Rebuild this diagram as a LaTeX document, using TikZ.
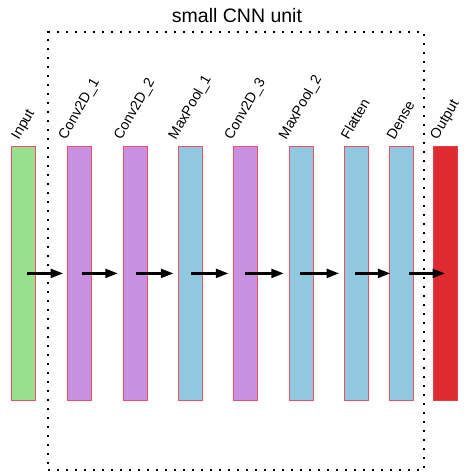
\documentclass[tikz,border=0pt]{standalone}
\usepackage{fontspec}
\setmainfont{Liberation Sans}
\usetikzlibrary{arrows.meta}
\definecolor{cin}{RGB}{152,224,142}
\definecolor{cconv}{RGB}{200,144,224}
\definecolor{cpool}{RGB}{144,200,224}
\definecolor{cout}{RGB}{224,42,50}
\definecolor{cedge}{RGB}{236,80,100}
\tikzset{
  bar/.style={draw=cedge, line width=0.8pt, minimum width=24pt, minimum height=254pt, inner sep=0pt, anchor=north west},
  lbl/.style={anchor=south west, rotate=60, inner sep=0pt, text height=10.2pt, text depth=3pt, font=\fontsize{14.2}{17}\selectfont},
  arr/.style={-{Triangle[length=13pt,width=8.5pt]}, line width=3.3pt, black},
  dotbox/.style={draw=black, line width=2pt, dash pattern=on 2pt off 7pt, minimum width=375.7pt, minimum height=438.3pt, inner sep=0pt, anchor=north west}
}
\begin{document}
\begin{tikzpicture}[x=1pt,y=-1pt]
\useasboundingbox (0,0) rectangle (468,472);
% dotted unit box
\node[dotbox] (unit) at (47.3,30.7) {};
\node[anchor=base, inner sep=0pt, font=\fontsize{19.5}{23}\selectfont] (title) at (237,22.7) {small CNN unit};
% bars
\node[bar, fill=cin]   (b0) at (11.3,146) {};
\node[bar, fill=cconv] (b1) at (67.3,146) {};
\node[bar, fill=cconv] (b2) at (122.7,146) {};
\node[bar, fill=cpool] (b3) at (178.3,146) {};
\node[bar, fill=cconv] (b4) at (233.3,146) {};
\node[bar, fill=cpool] (b5) at (288.7,146) {};
\node[bar, fill=cpool] (b6) at (344,146) {};
\node[bar, fill=cpool] (b7) at (389.3,146) {};
\node[bar, fill=cout, draw=cout!90!white] (b8) at (433,146) {};
% labels
\node[lbl] (l0) at ([xshift=-2.2pt,yshift=4pt]b0.north) {Input};
\node[lbl] (l1) at ([xshift=-11.1pt,yshift=4pt]b1.north) {Conv2D\_1};
\node[lbl] (l2) at ([xshift=-11.1pt,yshift=4pt]b2.north) {Conv2D\_2};
\node[lbl] (l3) at ([xshift=-12.1pt,yshift=4pt]b3.north) {MaxPool\_1};
\node[lbl] (l4) at ([xshift=-11.1pt,yshift=4pt]b4.north) {Conv2D\_3};
\node[lbl] (l5) at ([xshift=-12.1pt,yshift=4pt]b5.north) {MaxPool\_2};
\node[lbl] (l6) at ([xshift=-5.2pt,yshift=4pt]b6.north) {Flatten};
\node[lbl] (l7) at ([xshift=-4.6pt,yshift=4pt]b7.north) {Dense};
\node[lbl] (l8) at ([xshift=-5.0pt,yshift=4pt]b8.north) {Output};
% arrows
\draw[arr] ([xshift=3.4pt]b0.center) -- ([xshift=-3.6pt]b1.west);
\draw[arr] ([xshift=1.8pt]b1.center) -- ([xshift=-4.4pt]b2.west);
\draw[arr] ([xshift=1.2pt]b2.center) -- ([xshift=-4.4pt]b3.west);
\draw[arr] ([xshift=0.2pt]b3.center) -- ([xshift=-4.4pt]b4.west);
\draw[arr] ([xshift=-0.4pt]b4.center) -- ([xshift=-4.4pt]b5.west);
\draw[arr] ([xshift=-1.0pt]b5.center) -- ([xshift=-4.4pt]b6.west);
\draw[arr] ([xshift=-1.7pt]b6.center) -- ([xshift=1.5pt]b7.west);
\draw[arr] ([xshift=7.6pt]b7.center) -- ([xshift=12.5pt]b8.west);
\end{tikzpicture}
\end{document}
